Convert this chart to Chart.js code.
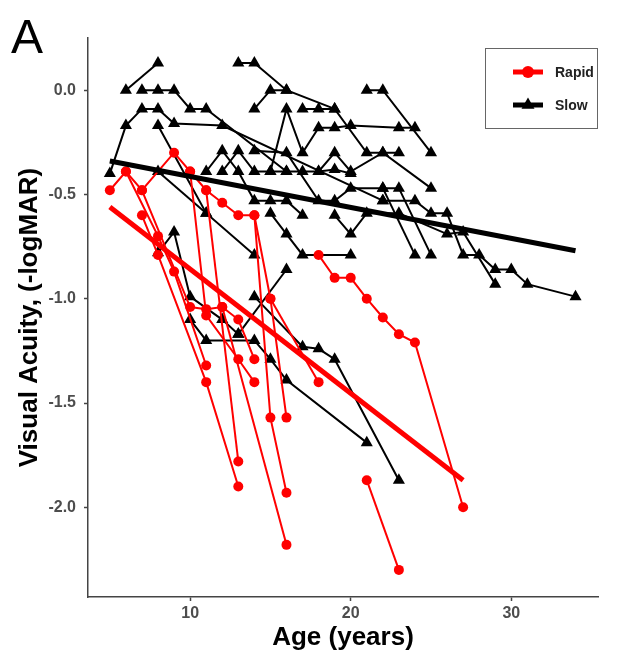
<!DOCTYPE html>
<html>
<head>
<meta charset="utf-8">
<script src="https://cdn.jsdelivr.net/npm/chart.js@4/dist/chart.umd.min.js"></script>
<style>
html,body{margin:0;padding:0;background:#fff;}
canvas{display:block;}
</style>
</head>
<body>
<canvas id="c" width="625" height="653"></canvas>
<script>
// ---- Data (age in years, visual acuity -logMAR) ----
const panelLabel = 'A';
const groupLabels = ['Rapid', 'Slow'];
const xTicks = [10, 20, 30];
const yTicks = [0, -0.5, -1, -1.5, -2];

// Rapid progressors: one list of [age, VA] per subject
const rapidSubjects = [
  [[5,-0.48],[6,-0.39],[7,-0.48],[9,-0.3],[10,-0.39],[11,-0.48],[12,-0.54],[13,-0.6],[14,-0.6],[15,-1.57],[16,-1.93]],
  [[6,-0.39],[8,-0.7],[9,-0.87],[11,-1.32]],
  [[7,-0.6],[8,-0.79],[11,-1.40],[13,-1.90]],
  [[7,-0.48],[10,-1.04],[11,-1.05],[12,-1.04],[13,-1.1],[14,-1.29]],
  [[10,-0.39],[11,-1.08],[13,-1.29],[14,-1.40]],
  [[14,-0.6],[15,-1.0],[16,-1.57]],
  [[11,-0.48],[13,-1.78]],
  [[12,-1.04],[16,-2.18]],
  [[15,-1.0],[18,-1.40]],
  [[18,-0.79],[19,-0.9],[20,-0.9],[21,-1.0],[22,-1.09],[23,-1.17],[24,-1.21],[27,-2.0]],
  [[21,-1.87],[23,-2.30]]
];

// Slow progressors
const slowSubjects = [
  [[6,0],[8,0.13]],
  [[7,0],[8,0],[9,0],[10,-0.09],[11,-0.09],[16,-0.39]],
  [[5,-0.4],[6,-0.17],[7,-0.09],[8,-0.09],[9,-0.16],[12,-0.17],[22,-0.53]],
  [[8,-0.17],[11,-0.59],[14,-0.79]],
  [[13,0.13],[14,0.13],[16,0],[19,-0.09]],
  [[14,-0.09],[15,0],[16,0]],
  [[15,-0.39],[16,-0.09],[17,-0.3],[18,-0.18],[19,-0.18],[20,-0.17],[23,-0.18],[24,-0.18]],
  [[17,-0.09],[18,-0.09],[19,-0.09],[21,-0.3],[22,-0.3],[23,-0.3]],
  [[21,0],[22,0],[25,-0.3]],
  [[18,-0.39],[19,-0.3],[20,-0.39],[22,-0.3],[25,-0.47]],
  [[8,-0.39],[11,-0.59]],
  [[11,-0.39],[12,-0.29],[13,-0.39],[14,-0.53],[15,-0.53],[16,-0.53],[17,-0.6]],
  [[12,-0.39],[13,-0.29],[14,-0.39],[15,-0.39],[16,-0.39],[17,-0.39],[18,-0.39],[19,-0.38],[20,-0.4]],
  [[14,-0.29],[16,-0.3],[18,-0.53],[19,-0.53],[20,-0.47],[22,-0.47],[23,-0.47],[25,-0.79]],
  [[22,-0.53],[24,-0.53],[25,-0.59],[26,-0.59],[27,-0.79],[28,-0.79],[29,-0.86],[30,-0.86],[31,-0.93],[34,-0.99]],
  [[19,-0.6],[20,-0.69],[21,-0.59],[23,-0.59],[26,-0.69],[27,-0.68],[29,-0.93]],
  [[15,-0.59],[16,-0.69],[17,-0.79],[20,-0.79]],
  [[22,-0.47],[24,-0.79]],
  [[8,-0.78],[9,-0.68],[10,-0.99],[12,-1.1],[13,-1.17]],
  [[10,-1.1],[11,-1.2],[14,-1.2],[15,-1.29],[16,-1.39],[21,-1.69]],
  [[13,-1.17],[16,-0.86]],
  [[14,-0.99],[17,-1.23],[18,-1.24],[19,-1.29],[23,-1.87]]
];

// Group fitted lines (endpoints)
const rapidFit = [[5,-0.56],[27,-1.87]];
const slowFit = [[5,-0.34],[34,-0.77]];

// ---- Build chart ----
const RED = '#ff0000', BLACK = '#000000';
const FONT = '"Liberation Sans", Arial, Helvetica, sans-serif';
const toXY = pts => pts.map(([x, y]) => ({x, y}));

const datasets = [];
slowSubjects.forEach(s => datasets.push({
  data: toXY(s), borderColor: BLACK, backgroundColor: BLACK,
  borderWidth: 2, pointStyle: 'triangle', pointRadius: 7,
  pointBorderWidth: 0, pointBackgroundColor: BLACK, order: 2
}));
rapidSubjects.forEach(s => datasets.push({
  data: toXY(s), borderColor: RED, backgroundColor: RED,
  borderWidth: 2, pointStyle: 'circle', pointRadius: 5,
  pointBorderWidth: 0, pointBackgroundColor: RED, order: 1
}));
datasets.push({data: toXY(slowFit), borderColor: BLACK, borderWidth: 5, pointRadius: 0, order: 0});
datasets.push({data: toXY(rapidFit), borderColor: RED, borderWidth: 5, pointRadius: 0, order: 0});

const overlay = {
  id: 'overlay',
  afterDraw(chart) {
    const ctx = chart.ctx;
    ctx.save();
    // panel label
    ctx.fillStyle = '#000';
    ctx.font = '48px ' + FONT;
    ctx.textBaseline = 'alphabetic';
    ctx.textAlign = 'left';
    ctx.fillText(panelLabel, 11, 53);
    // legend box
    ctx.strokeStyle = '#666';
    ctx.lineWidth = 1;
    ctx.strokeRect(485.5, 48.5, 112, 80);
    const keys = [
      {label: groupLabels[0], color: RED, shape: 'circle', y: 72},
      {label: groupLabels[1], color: BLACK, shape: 'triangle', y: 105}
    ];
    keys.forEach(k => {
      ctx.strokeStyle = k.color;
      ctx.fillStyle = k.color;
      ctx.lineWidth = 5;
      ctx.beginPath();
      ctx.moveTo(513, k.y); ctx.lineTo(543, k.y);
      ctx.stroke();
      ctx.beginPath();
      if (k.shape === 'circle') {
        ctx.arc(528, k.y, 6, 0, Math.PI * 2);
      } else {
        const r = 7.5;
        ctx.moveTo(528, k.y - r);
        ctx.lineTo(528 + r * Math.sin(2 * Math.PI / 3), k.y - r * Math.cos(2 * Math.PI / 3));
        ctx.lineTo(528 + r * Math.sin(4 * Math.PI / 3), k.y - r * Math.cos(4 * Math.PI / 3));
        ctx.closePath();
      }
      ctx.fill();
      ctx.fillStyle = '#222';
      ctx.font = 'bold 14px ' + FONT;
      ctx.textBaseline = 'middle';
      ctx.fillText(k.label, 555, k.y + 1);
    });
    ctx.restore();
  }
};

new Chart(document.getElementById('c'), {
  type: 'line',
  data: {datasets},
  plugins: [overlay],
  options: {
    responsive: false,
    animation: false,
    events: [],
    layout: {padding: {top: 38, right: 27, left: 0, bottom: 0}},
    elements: {line: {tension: 0}},
    plugins: {legend: {display: false}, tooltip: {enabled: false}},
    scales: {
      x: {
        type: 'linear', min: 3.64, max: 35.4,
        afterBuildTicks: s => { s.ticks = xTicks.map(v => ({value: v})); },
        afterFit: s => { s.height = 56; },
        grid: {display: true, drawOnChartArea: false, drawTicks: true, tickLength: 4, tickColor: '#444', tickWidth: 1.5},
        border: {display: true, color: '#444', width: 1.5},
        ticks: {color: '#4d4d4d', font: {family: FONT, size: 16, weight: 'bold'}, padding: 3, maxRotation: 0},
        title: {display: true, text: 'Age (years)', color: '#000', font: {family: FONT, size: 26, weight: 'bold'}, padding: {top: 0, bottom: 0}}
      },
      y: {
        type: 'linear', min: -2.43, max: 0.25,
        afterBuildTicks: s => { s.ticks = yTicks.map(v => ({value: v})); },
        afterFit: s => { s.width = 88; },
        grid: {display: true, drawOnChartArea: false, drawTicks: true, tickLength: 4, tickColor: '#444', tickWidth: 1.5},
        border: {display: true, color: '#444', width: 1.5},
        ticks: {color: '#4d4d4d', font: {family: FONT, size: 16, weight: 'bold'}, padding: 8,
          callback: v => v.toFixed(1)},
        title: {display: true, text: 'Visual Acuity, (-logMAR)', color: '#000', font: {family: FONT, size: 26, weight: 'bold'}, padding: {top: 14, bottom: 0}}
      }
    }
  }
});
</script>
</body>
</html>
